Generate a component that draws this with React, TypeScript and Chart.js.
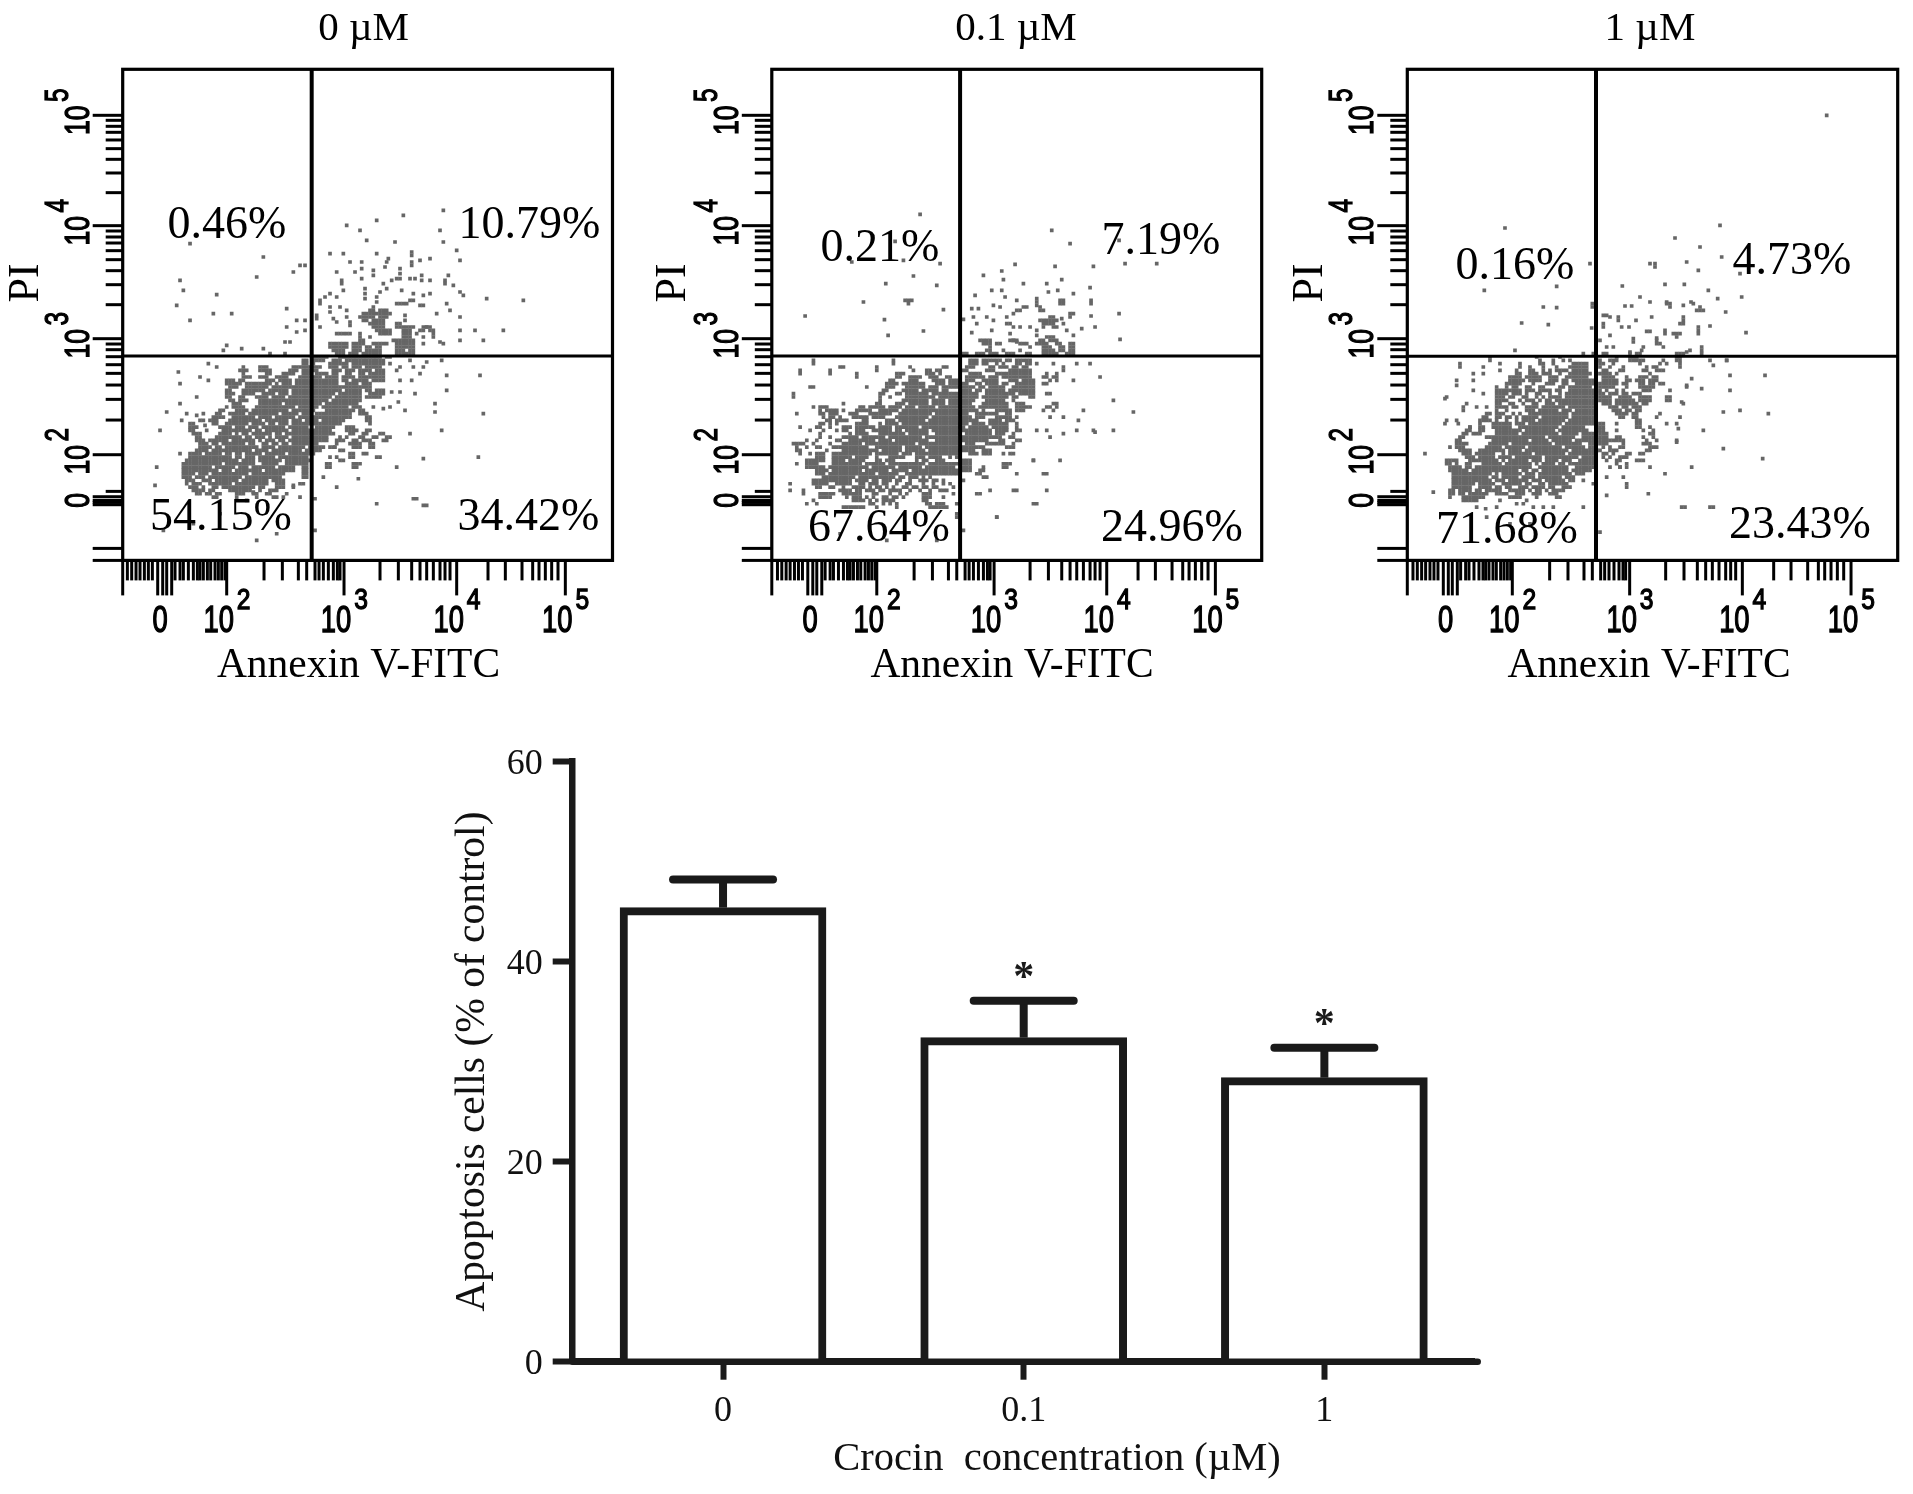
import React, { useEffect, useRef } from "react";
import { Chart, registerables } from "chart.js";

Chart.register(...registerables);

// ---------- Flow cytometry events, in display channels (one channel = one plotted event cell) ----------
const sparseA = [21,13,43,17,54,19.5,55.5,19.5,52,21.5,41,23,18,24,19,27,29,28.3,17,31.5,50,32.5,21,36,28,34,33.5,34,53,36,55.5,36,50,38,55.5,39,53,39.5,49.5,42.5,51,42.5,32,43.5,31,45,36.5,44.5,43,44.5,45,46,49.5,46,
97,3,85,4.5,77,6,68,7.5,72,9,96,9,82.5,12.5,74,12,97,12.5,101,15,63,16,67,16,77,16,87.5,15.5,87.5,16.5,87.5,18.5,87.5,19.5,102,18,90,18,93,17.5,69,18.5,72.5,18.5,80.5,17.5,80,18.5,79.5,20,65,21.5,70.5,21.5,72.5,20.5,76,21,76,22.5,84,20.5,84,22,84,23.5,81.5,24,83,23.5,87,23.5,88.5,23.5,90.5,22.5,90.5,24,93,24,98.5,22.5,97.5,24,97.5,25,66.5,24,66.5,25,72.5,23.5,79,25,80,26.5,100,25.5,67,27,73.5,26.5,73.5,28,73.5,29.5,77,29,78,27.5,84.5,27,88,28,91,28.5,93,28,102,27.5,103,28.5,110,29.5,121,30,63,28,61.5,29,60,30,60,31,65,29,77,30.5,76,32,76,33.5,98,31,99,33,83,31,84,31,85,31,86,31,87,30,88,30,90,31.5,91,31.5,63,32,63,33.5,66,32,68,33,102,35,95,34,85.5,34.5,85.5,36,59,34.5,59,35.5,64,35.5,65,36.5,68,35,69,36.5,69,37.5,60,38,115,39,106.5,39,102,39,102,42,109,42,92,38,97,43,96,42.5,
17.5,51.5,26.5,49,29,50,24,53,26.5,54,18,55,23,59,18,61,14,63.5,25,64,20,64,23,64.5,18.5,66,12,69,25.5,67.5,18,76,11,80,10.5,85.5,52,85.5,50,88,49,89,54,89,40,87.5,41,89,38,90,41,102,13,99,22,97,30,94,47,100,58.5,99,58.5,89.5,65,86,71.5,83.5,77,91,83,80,91,77.5,107.5,77,96.5,69,87,70,109,64,94.5,61,94.5,63.5,88.5,58,84,57.5,81.5,57.5,83.5,60.5,85.5,63,81,62,79,62.5,76,62,98,57,108,52.5,98,52.5,96.5,48,84,54,87.5,54,90,52,88,50,91,50,84,50,81,49,83,51,87,48,92,48.5,88,89.5,89,89.5,91,91.5,92,91.5,65,77,62,80,66,78,63,79,64.5,74,67,78];

const denseA = [
"33:75-76 78-80","34:73-81","35:72-76 78-80","36:73-74 76-79","37:75-79 83-84","38:76-79 83-88 91-93","39:77-81 85-87 90-91 93-94","40:65-69 72 78-81 85-87 89 94","41:72 75 85-87 91 94","42:72-73 82-88","43:63-68 70-73 76-80 83-88 91","44:63-68 70-72 74-75 77-78 83-88","45:64-67 70-72 74-78 83-85 87-88","46:65-67 69-71 73-78 83-88",
"47:58-62 66-78 80-81","48:55-56 58-61 64-66 68-79","49:55-56 58 63-68 70-79","50:37 42-44 52-57 58-60 63-65 67-68 70-72 74-78","51:36-38 42-45 51-53 55-59 64-66 68-70 72-75 77-79","52:37 44-45 49-52 55-57 59-62 64-65 68-69 72-73 75-79","53:37-39 42-44 47-50 54-60 62-65 67-70 72-79","54:32-34 36-37 44-46 48-51 53-65 67-68 70-74 76-79","55:32-36 38-45 47 49-51 53-65 68-71 73-75","56:33-35 38-44 46-51 52-75","57:32-33 37-43 45-50 52-66 68-72 74-75 77-79","58:32-34 37-40 43-46 48-50 52-64 66-72 75-79","59:32-33 36-37 41-44 46-49 51-63 65-72 74-78","60:33-34 36-38 42-49 50-62 64-72","61:34-36 42-48 50-60 62-71","62:32 34-37 41-52 54-59 61-68 70-72","63:30-31 35-38 40-50 52-58 62-70 72-73","64:29-30 33-37 39-47 49-53 55-57 59-69 72-74","65:28-31 34-40 42-45 47-52 54-69 74-75","66:24-25 27-29 33-42 44-50 52-54 56-59 61-67 74-75","67:21-22 28-29 32-38 40-43 45-46 48-50 52-66 75","68:21-23 30-33 35-37 39-41 43-49 51-56 59-64 68-70","69:21-22 26 31-39 41-42 44-50 52-63 68-71 74-75","70:22-24 30-33 35 37-38 40-45 47-48 50-64 69-70 73-74 78-79","71:23-24 29-36 38-39 41-43 45 47-50 52-62 66 68 72-73 76-77 80-81","72:23-25 27-32 34-40 42 44-46 48-49 51-62 65-67 70-71 73-75 79-80","73:24-26 28-29 31-37 39-40 43-44 46-47 49-50 52-59 65 69-72 75-76","74:24-27 29-30 32-41 43-46 48-55 57-61 63-64 70-72 75-76","75:23-26 28-39 41-44 46-54 56-60 66-67","76:21-24 26-30 32-33 35-36 38-42 44-49 51-58 69-70 73-74","77:21-33 35-36 38-40 42-46 48-56 63 69-70 77-78","78:20-35 37-40 42-48 50-57","79:19-30 32-40 43-47 50-56 62 70-72","80:19-27 29-34 36-38 40-46 48-52 55-56 63 70-71","81:19-29 31-33 35-42 44-52 55-56","82:19-22 24-26 28-38 40-49 55-56","83:19-21 23-25 27-36 38-48 55-56 61","84:20-22 25-27 29-35 37-44 46-49","85:20 22-24 27-33 35-42 43-44 47-49 54-55","86:21-23 25 28-29 31-40 42-43 47-49 52","87:22-25 27-28 33-39 42 45-47","88:23-24 26-27 29-30 35-37 40-41 44-45","89:28-29 35 46-47"];

const sparseB = [45,4.2,37.5,12.3,24.5,18.5,40,18,51,19,43,22.7,34.7,25,50,25.5,28,30.5,41.5,30,41.5,31,40.5,30,42.5,30,52,32.8,10.5,34.7,34.3,35.8,46,39.2,35.4,40.5,
84.5,9,90,13,104.7,12,73.5,19.2,85.5,19.8,97,19.8,106.5,19,116,19,64,22.5,69.5,21.2,70,23.8,76,25,83,25,87.5,23.8,96,26.2,66.5,27,69.5,27,83.5,27.5,86.3,27,91,28,61.5,28.5,70.5,29,96.3,30,96.3,31,74,30,60.5,32.5,62.5,32.5,67,31.5,69,32,75,33,76,32,77,32,80,29.5,80,30.5,80,31.5,81,32,81,33,82,33,87,31,88,31,87,30,88,30,90,34,91,34,90,35,58,35.7,61,35,62,37,65,35,67,36,71,35,73,34,74,33,96.3,34.7,104.7,34,71,37,72,37,73,38,75,38,78,38,87.5,35.5,88,37,93.5,38.5,97.5,38,60.5,39.7,66.5,39,72,40,80,39,80,40.5,82,38,83,41,84,41,85,41,89,39,91,40.5,73,42,74,42.5,105,41.7,
57,93,56,94,56,95,68,95,58,99,21,100,50,102,35,102,103,60,109,63.5,103,69,97.5,69.5,92.5,66,88,70,79,78,74,87,79,91,68,95,83,82,87,78,10,88,6,85,6,87,11,80];

const denseB = [
"35:84-85","36:81-86","37:82-85","38:85-86","42:63-66 72-74 81-82 84-86","43:64-66 68-69 75-77 80-83 86-87 90-91","44:66 78 82-84 87-88 90-91","45:65-66 70 75 82-85 87-88 90-91","46:58-59 62-64 66-68 71-73 77-78 82-86 89-91",
"48:13 37 60-62 64-66 67-69 71-72 74-78","49:13 37 60-62 64-65 68 70 74-75 77-78 80 85 92 96","50:21-22 32 42 52-53 59-61 66-67 69-71 73-74 76-77 88","51:9 18 32 43 47-48 50-51 58-59 65-67 72-78 88","52:9 18 26 38-40 47-49 51 60-63 68-70 71-78 83 86","53:26 38-39 42-45 48-50 53-54 59-64 66-68 70-78 82-83 85-86 99","54:36-37 42-44 49-52 54-56 59-61 64-68 72-74 76-79 84 86 91","55:35-38 40-46 50-52 54-56 58-59 62-63 65-68 70-71 74-79 82-83","56:12-13 29 35-37 41-46 48-50 52-57 58-61 63-64 66-70 73-79","57:34-35 40-44 46-50 52-53 58-60 62-63 65-70 72-79","58:7 33-34 38-39 41-47 49-51 52-62 65-71 72-73 75-79 83-84","59:7 33 36 41-49 51-62 64-71 73-74 78-79","60:33 40-47 49-52 54-61 65-70 73","61:22 32-33 38-40 42-47 49-52 54-60 64-71 74-76 85-86","62:13 15-17 27-28 30-34 36-39 41-43 45-49 51-61 63-71 74-78 83-84 86","63:15 17-20 22 26-30 33-38 40-45 46-56 58-62 64 68-72 74-76 82 85 94","64:8 15-16 18-20 24-26 30-36 39-48 50-59 62-68 71-72","65:16 18-19 21 25-29 31-34 38-47 49-56 58-60 62-64 68-72 74 84 88","66:17-18 20-23 28-29 35-37 39-46 48-56 58-62 66-69 71-73","67:15-16 18 20 26-29 33 35-38 40-47 48-59 61-64 66-71 74","68:9 14-15 18 22-24 26-31 33-36 38-44 46-58 60-65 67-71 74","69:12 16 20 22-23 26-28 31-36 38-39 41-47 49-56 58-66 68-71 74-75 80 83 92 97","70:15 24 26-29 33-40 42-47 50-57 59-66 68-70 73","71:15 18 22-26 28-34 36-45 47-56 58-69 72-73 84","72:11 14 20-21 24-31 33-36 38-47 50-56 58-65 69-70 74-75","73:7-10 13 18 22-27 29-43 45-56 59-61 65-70 73","74:8 11 14-15 19-29 32-39 41-45 47-56 58-64 71-73","75:8-9 17 22-32 34-39 41-46 48-61 64-66","76:9 12 14-16 19-30 32-38 40-42 44-56 60-62 64-66 70 72-73","77:14-16 19-24 26-29 32 36-40 44-46 48-51 54 56","78:11-16 19-22 24-28 32-33 35-37 44 46-47 50-52 58-60 79","79:8 11-14 19-27 29-34 36-46 48-56 58-60 70-72","80:12-16 18-29 31-37 39-45 47-55 58-60 64 70-71","81:14-17 19-27 29-35 37-41 43-56 58-60 63-64","82:14-16 18-31 33-38 41-56 62-63 74 82","83:16-25 27-34 35-37 39-40 42-44 46 48 64-65","84:13-24 26-29 31-32 34-36 38-39 42 45-47 49-50 52 58","85:13-17 20-24 27-28 30-32 34-35 38 41-42 46 49 52 54","86:14-15 18-19 22 25-28 30 32-33 35 37 40-41 43-44 46-47 49-50 55","87:10 21-24 26-27 29-31 33-34 36-39 42 45 48 51-53 66 73 83","88:15-19 22-27 31-32 36 39 41 46-48 55 62-63","89:15-18 23 25-27 29 31 34-35 37-38 40 46-48 52","90:13 25-28 30 32 34-37 46-47","91:11 14 30-31 34 36 38 47-48 50-52 56-57 80","92:22-28 32 38 48-53"];

const sparseC = [125,-25.5,28.5,8.3,54,19,44,25.8,22.3,27,54.7,31,54.7,32,40,32,44,32.2,33.5,36.8,41.5,37.3,54.5,38.3,31.5,45,52,46,55,46,
93,7.5,79.5,11.3,87,14,93.5,17,83,18.5,72,19,73.5,19,73.5,20,86.5,21,99,22,63.7,25.7,76.5,25.2,82.3,25.2,89.5,27,92.3,29.5,99.5,29,69,29,72,30.5,77,30.5,84.3,30.5,64.5,31.7,66.5,31.7,77,31,78,31,78,32,82,31.5,85,31,87,32,87,33,88,33,86,33,94.7,33.5,58,34.5,59,34.5,60,35,62.5,35,62.5,36,72.5,35,67.8,36,82,35,82,36,81,37,82,37,90,37.7,58,37,58,38,63.5,38,65.7,38,71,39.3,72,39.3,76.5,39,76.5,40,79,40,80,40,81,40,80,41,86.5,38,86.5,39,86.5,40,100.8,39.7,60,40.5,57,42,59,44,61,44,67,41.5,67,42.5,74,41.3,74,42,74,43,75,43,76,44,70,44,69.5,45,84,45,83,45.5,87.5,44,87.5,45,87.5,46,66,45.5,66,46,68,46,69,46,80,46,81,46,82,46,58,46,59,46,
4.5,76,7,87.5,10.5,67,14.5,67,10.5,59.5,14,55.5,16,63,18,68,52,82,52,84,55,85,59,83,60,80,63,80,65,86,71.5,88,76.5,82,84.5,80,59,88.5,65,85,80,72.5,80.5,68.5,88,69,94,74.5,105.8,77.5,94,63.5,99,63,107.5,64,81.5,60.5,77,60,78,60,96,57,106.5,52.5,96,52.5,87.5,56.5,83,55.5,84.5,53.5,91,49.5,81,50,95,48,81.5,92,82.5,92,90,92,91,92,57,99.5,52,92,26,92,22.7,92.5,27,90,32,91,34,91,37,92,40,92,43,92,23,95,36,97,30,97,20,92];

const denseC = [
"47:24 38 45 62 66-68 80-81","48:24 39 43 46 48 56-57 60-62 66-70 76 80-81 90 95","49:15 27 33 39-40 43 49-53 57-58 61 69 75 77 81","50:15 22 33 36 40 44 48-53 57 60 64 71 73-74","51:27 32 36-37 40 42 44-47 49-53 58-59 63-64 70-71 74-76","52:19 22 32-33 36-38 40-42 45 48-54 57-60 62 72","53:30-33 35-39 42-44 47-53 58-61 65 69-71 73-74","54:14 19 30-34 36-39 42-44 46-47 49-55 58-62 65-66 68-70 72-74","55:29-33 37 41-43 46-47 50-55 57-62 64-65 69-70 72-73 75-76","56:26 29 31-32 35-36 39-40 45-46 48-54 57-61 65 69-73 83","57:19 26-33 35-37 39-42 44-45 48-55 57 59 62 64 70-72 78","58:22 26-29 31-33 35 38-39 42 45 47-55 57-58 60-62 64-65 67-69","59:11 26-28 30-31 34-35 38 40 42-45 47-55 57-60 63-66 69-72 77-78","60:26-29 33 35-37 39 41-42 44-55 57-60 62-67 69-72","61:17 26-27 30-31 34 37-38 41-43 45-55 58-60 62-68 70-71 82","62:16 20 23 26-29 31-32 35-38 40-46 48-55 60-62 64-65 67-69","63:26 29 35-37 39-44 46-48 50-55 61-63 65-66 68-69","64:23-24 26-28 31 33 36-47 49-55 62-65 67-68 75","65:22-23 26-27 29-30 32 34-38 40-47 49-55 63-64 67-68 74 81","66:11 14 21-24 26 29 32 34-37 39-46 48-55 68-69","67:21 25-30 32-34 36-45 47-55 57-58 62 68-69 77 80","68:18 21-22 25-30 33-44 46-52 56-58 68-69 72","69:17-18 21-22 26-33 35-43 45-53 56-58 62 70 73","70:16-17 19-21 26-32 34-44 46-50 52-55 57-59 72-73","71:15-16 23-37 38-40 42-49 52-55 57-59 62-63 70 73","72:14-15 25-35 37-41 43-48 50-55 57-64 71 74 80","73:14-17 24-29 31-42 44-51 54-55 57-59 64 70-72","74:12 14-16 23-27 29-34 36-45 47-52 54-55 58 60 63-64 72-74","75:15-18 21-28 30-33 35-47 49-57 60-62 71-72","76:16-18 20-25 28 30-36 38-46 48-55 58-59 61 65-66 69-70","77:17-19 21-25 27-30 32-39 41-50 52-55 58 60 63-65","78:11-14 18-26 28 30-35 37-39 41-44 46-48 51-55 59 62-63 68-70","79:11-12 14 17-18 22-27 29-36 38 40-43 45-46 48-55 62 65","80:12-15 17-18 20-36 39-47 50-55 63 65 72","81:12-17 19-32 34-35 37-38 40-47 49-54","82:13-24 26 28-33 35-37 39-48 50-51","83:13-23 25-26 28-32 34-37 39-45 47-49 64","84:13-24 26-28 30-35 37-39 41-46 48-49","85:13-19 21-25 28-33 35-36 39-40 42-47","86:13-18 21-24 26-27 29-30 33-35 37-40 42-43 46-48","87:12-13 15-18 20-21 23-27 30-34 36 38-39 41 43-46","88:12-13 15-16 18-23 26-29 32-34 37-39 42-44","89:12 16-22 30-33 38 44-45","90:16-20 35"];

// ---------- Flow cytometry axes ----------
const xMinorTicks = [2.2,3.5,4.8,6,7.3,8.5,9.7,16.5,18,19,20.5,22,23.2,24,25,26.2,27.2,28.5,29.5,30.5,31.5,43.2,48.7,53.5,56,58.5,59.7,61,62.5,64,65.2,66,78,83.5,87.5,90,92,94,96,97.5,99,110.4,115.6,120.6,123.8,125.7,127.6,129.5,131.4];
const xMajorTicks = [11.3,12.8,14,15.5,32,67.2,101,133.6];
const yMinorTicks = [-24,-22.2,-20.4,-18.1,-15.5,-12.3,-8.2,-2.3,9.2,11,12.8,15.1,17.8,21.1,25.3,31.3,43.1,44.8,46.9,49.3,51.9,55.4,59.7,65.9,87.3];
const yMajorTicks = [-25.5,7.6,41.5,76.3,88.9,90,90.6,91.3,104.4];
const xLabelTicks: [string, string, number][] = [["0","",11.7],["10","2",32],["10","3",67.2],["10","4",101],["10","5",133.6]];
const yLabelTicks: [string, string, number][] = [["10","5",-25.5],["10","4",7.6],["10","3",41.5],["10","2",76.3],["0","",90.6]];

const panelTitles = ["0 µM","0.1 µM","1 µM"];
const quadrantA: [string, number, number][] = [["0.46%",227,238],["10.79%",529.5,238],["54.15%",221,530],["34.42%",528.5,530]];
const quadrantB: [string, number, number][] = [["0.21%",880,261],["7.19%",1161,254],["67.64%",879,541],["24.96%",1172,541]];
const quadrantC: [string, number, number][] = [["0.16%",1515,279],["4.73%",1792,274],["71.68%",1507,543],["23.43%",1800,538]];

// ---------- Bar chart ----------
const concentrations = ["0","0.1","1"];
const apoptosisMean = [45.4,32.4,28.4];
const apoptosisErrorTop = [48.2,36.1,31.4];
const significance = ["","*","*"];

const SERIF = '"Liberation Serif", "Times New Roman", serif';
const SANS = '"Liberation Sans", Arial, sans-serif';
const EVENT_GREY = "#666666";
const INK = "#000000";
const BAR_INK = "#1a1a1a";

function pairs(flat: number[]) {
  const out: { x: number; y: number }[] = [];
  for (let i = 0; i + 1 < flat.length; i += 2) out.push({ x: flat[i], y: flat[i + 1] });
  return out;
}
function cells(rows: string[]) {
  const out: { x: number; y: number }[] = [];
  for (const row of rows) {
    const [yText, spans] = row.split(":");
    for (const span of spans.split(" ")) {
      const [a, b] = span.split("-").map(Number);
      for (let x = a; x <= (b ?? a); x++) out.push({ x, y: Number(yText) });
    }
  }
  return out;
}

type Panel = {
  title: string; titleX: number; left: number; width: number;
  plotLeft: number; plotRight: number; xMin: number; xMax: number; shift: number;
  gateX: number; gateY: number; sparse: number[]; dense: string[];
  quadrants: [string, number, number][]; axisX: number; piX: number;
};
const TOP = 69.3, BOTTOM = 560.4, YMIN = -39.3, YMAX = 108;

const panels: Panel[] = [
  { title: panelTitles[0], titleX: 363.6, left: 0, width: 640, plotLeft: 122.7, plotRight: 612.5, xMin: 0.8, xMax: 147.75, shift: 0, gateX: 57.5, gateY: 46.7, sparse: sparseA, dense: denseA, quadrants: quadrantA, axisX: 358.5, piX: 38 },
  { title: panelTitles[1], titleX: 1016, left: 650, width: 640, plotLeft: 771.8, plotRight: 1261.7, xMin: 0.5, xMax: 147.5, shift: 0, gateX: 57, gateY: 46.7, sparse: sparseB, dense: denseB, quadrants: quadrantB, axisX: 1012, piX: 685 },
  { title: panelTitles[2], titleX: 1650, left: 1290, width: 623, plotLeft: 1407.3, plotRight: 1897.7, xMin: -0.8, xMax: 146.3, shift: -1.3, gateX: 55.8, gateY: 46.8, sparse: sparseC, dense: denseC, quadrants: quadrantC, axisX: 1649, piX: 1322 },
];

// A condensed, slightly heavy glyph like the cytometer's axis font; the ctx is positioned by the caller.
function axisGlyph(ctx: any, text: string, size: number, squeeze: number) {
  ctx.save();
  ctx.scale(squeeze, 1);
  ctx.font = `${size}px ${SANS}`;
  ctx.lineWidth = 1.3;
  ctx.fillText(text, 0, 0);
  ctx.strokeText(text, 0, 0);
  ctx.restore();
}

function facsPlugin(p: Panel) {
  return {
    id: "facsAxes",
    afterDraw(chart: any) {
      const { ctx, chartArea: a, scales } = chart;
      const X = scales.x, Y = scales.y;
      ctx.save();
      ctx.strokeStyle = INK;
      ctx.fillStyle = INK;
      ctx.lineWidth = 3.2;
      ctx.strokeRect(a.left, a.top, a.right - a.left, a.bottom - a.top);

      ctx.lineWidth = 3;
      const xt = (v: number, len: number) => {
        const px = X.getPixelForValue(v + p.shift);
        ctx.beginPath(); ctx.moveTo(px, a.bottom); ctx.lineTo(px, a.bottom + len); ctx.stroke();
      };
      const yt = (v: number, len: number) => {
        const py = Y.getPixelForValue(v);
        ctx.beginPath(); ctx.moveTo(a.left, py); ctx.lineTo(a.left - len, py); ctx.stroke();
      };
      xMinorTicks.forEach((v) => xt(v, 20));
      xMajorTicks.forEach((v) => xt(v, 35));
      xt(p.xMin - p.shift, 35);
      yMinorTicks.forEach((v) => yt(v, 17));
      yMajorTicks.forEach((v) => yt(v, 30));
      yt(YMAX, 30);

      // tick labels: "10" with a raised exponent
      ctx.textBaseline = "alphabetic";
      ctx.textAlign = "center";
      for (const [base, exp, v] of xLabelTicks) {
        const px = X.getPixelForValue(v + p.shift);
        ctx.save();
        ctx.translate(exp ? px - 8 : px + 1, 632);
        axisGlyph(ctx, base, 36, 0.76);
        ctx.restore();
        if (exp) {
          ctx.save();
          ctx.translate(px + 17, 609);
          axisGlyph(ctx, exp, 29, 0.85);
          ctx.restore();
        }
      }
      for (const [base, exp, v] of yLabelTicks) {
        const py = Y.getPixelForValue(v);
        ctx.save();
        ctx.translate(a.left - 34, py + (exp ? 5 : -2));
        ctx.rotate(-Math.PI / 2);
        axisGlyph(ctx, base, 35, 0.76);
        ctx.restore();
        if (exp) {
          ctx.save();
          ctx.translate(a.left - 55, py - 20);
          ctx.rotate(-Math.PI / 2);
          axisGlyph(ctx, exp, 34, 0.72);
          ctx.restore();
        }
      }

      // titles and quadrant percentages
      ctx.textAlign = "center";
      ctx.font = `41px ${SERIF}`;
      ctx.fillText(p.title, p.titleX - p.left, 40);
      ctx.font = `41.5px ${SERIF}`;
      ctx.fillText("Annexin V-FITC", p.axisX - p.left, 677);
      ctx.save();
      ctx.translate(p.piX - p.left, 283);
      ctx.rotate(-Math.PI / 2);
      ctx.font = `44px ${SERIF}`;
      ctx.fillText("PI", 0, 0);
      ctx.restore();
      ctx.font = `46px ${SERIF}`;
      for (const [t, x, y] of p.quadrants) ctx.fillText(t, x - p.left, y);
      ctx.restore();
    },
  };
}

function facsConfig(p: Panel): any {
  const sparse = pairs(p.sparse);
  const dense = cells(p.dense);
  const line = (data: { x: number; y: number }[], w: number) => ({
    data, showLine: true, borderColor: INK, borderWidth: w, pointRadius: 0, fill: false,
  });
  return {
    type: "scatter",
    data: {
      datasets: [
        line([{ x: p.gateX, y: YMIN }, { x: p.gateX, y: YMAX }], 4),
        line([{ x: p.xMin, y: p.gateY }, { x: p.xMax, y: p.gateY }], 3),
        {
          data: [...dense, ...sparse],
          pointStyle: "rect",
          pointRadius: 2.6,
          pointBorderWidth: 0,
          backgroundColor: EVENT_GREY,
          borderColor: EVENT_GREY,
        },
      ],
    },
    options: {
      animation: false,
      responsive: false,
      devicePixelRatio: 1,
      layout: { padding: { left: p.plotLeft - p.left, right: p.left + p.width - p.plotRight, top: TOP, bottom: 700 - BOTTOM } },
      plugins: { legend: { display: false }, tooltip: { enabled: false } },
      scales: {
        x: { type: "linear", display: false, min: p.xMin, max: p.xMax },
        y: { type: "linear", display: false, min: YMIN, max: YMAX, reverse: true },
      },
    },
    plugins: [facsPlugin(p)],
  };
}

const BAR_LEFT = 440, BAR_TOP = 730, BAR_W = 1060, BAR_H = 764;

const barExtras = {
  id: "barExtras",
  afterDatasetsDraw(chart: any) {
    const { ctx, scales, chartArea } = chart;
    const meta = chart.getDatasetMeta(0);
    ctx.save();
    ctx.strokeStyle = BAR_INK;
    ctx.fillStyle = BAR_INK;
    // the baseline stays on top of the white bar fills and runs a little past the last category band
    ctx.lineWidth = 6.5;
    ctx.lineCap = "round";
    ctx.beginPath(); ctx.moveTo(chartArea.left, chartArea.bottom); ctx.lineTo(chartArea.right + 3, chartArea.bottom); ctx.stroke();
    apoptosisErrorTop.forEach((v, i) => {
      const x = meta.data[i].x;
      const yTop = scales.y.getPixelForValue(v);
      const yBar = scales.y.getPixelForValue(apoptosisMean[i]);
      ctx.lineCap = "butt";
      ctx.lineWidth = 8;
      ctx.beginPath(); ctx.moveTo(x, yTop); ctx.lineTo(x, yBar); ctx.stroke();
      ctx.lineCap = "round";
      ctx.beginPath(); ctx.moveTo(x - 50, yTop); ctx.lineTo(x + 50, yTop); ctx.stroke();
      if (significance[i]) {
        ctx.font = `bold 42px ${SERIF}`;
        ctx.textAlign = "center";
        ctx.textBaseline = "alphabetic";
        ctx.fillText(significance[i], x, yTop - 11);
      }
    });
    ctx.fillStyle = "#111111";
    ctx.font = `40.5px ${SERIF}`;
    ctx.textAlign = "center";
    ctx.textBaseline = "alphabetic";
    ctx.fillText("Crocin  concentration (µM)", 1057 - BAR_LEFT, 1470 - BAR_TOP);
    ctx.restore();
  },
};

const barConfig: any = {
  type: "bar",
  data: {
    labels: concentrations,
    datasets: [{
      data: apoptosisMean,
      backgroundColor: "#ffffff",
      borderColor: BAR_INK,
      borderWidth: 8,
      borderSkipped: "bottom",
      barThickness: 206,
    }],
  },
  options: {
    animation: false,
    responsive: false,
    devicePixelRatio: 1,
    layout: { padding: { left: 0, right: 25.3, top: 30.7, bottom: 0 } },
    plugins: { legend: { display: false }, tooltip: { enabled: false } },
    scales: {
      x: {
        type: "category",
        afterFit: (s: any) => { s.height = 132.3; },
        border: { color: BAR_INK, width: 6.5 },
        grid: { offset: false, drawOnChartArea: false, tickLength: 18, tickWidth: 6, tickColor: BAR_INK },
        ticks: { color: "#111111", padding: 10, font: { family: SERIF, size: 36 }, maxRotation: 0 },
      },
      y: {
        type: "linear",
        min: 0,
        max: 60,
        afterFit: (s: any) => { s.width = 132.7; },
        border: { color: BAR_INK, width: 6.5 },
        grid: { drawOnChartArea: false, tickLength: 20, tickWidth: 6, tickColor: BAR_INK },
        ticks: { stepSize: 20, color: "#111111", padding: 10, labelOffset: 3, font: { family: SERIF, size: 36 } },
        title: { display: true, text: "Apoptosis cells (% of control)", color: "#111111", padding: { top: 8, bottom: 0 }, font: { family: SERIF, size: 41.5 } },
      },
    },
  },
  plugins: [barExtras],
};

export default function App() {
  const panelRefs = useRef<(HTMLCanvasElement | null)[]>([]);
  const barRef = useRef<HTMLCanvasElement | null>(null);

  useEffect(() => {
    const charts: Chart[] = [];
    panels.forEach((p, i) => {
      const el = panelRefs.current[i];
      if (el) charts.push(new Chart(el, facsConfig(p)));
    });
    if (barRef.current) charts.push(new Chart(barRef.current, barConfig));
    return () => charts.forEach((c) => c.destroy());
  }, []);

  return (
    <div style={{ position: "absolute", left: 0, top: 0, width: 1913, height: 1494, background: "#fff", overflow: "hidden" }}>
      {panels.map((p, i) => (
        <canvas
          key={p.title}
          ref={(el) => { panelRefs.current[i] = el; }}
          width={p.width}
          height={700}
          style={{ position: "absolute", left: p.left, top: 0, width: p.width, height: 700 }}
        />
      ))}
      <canvas
        ref={barRef}
        width={BAR_W}
        height={BAR_H}
        style={{ position: "absolute", left: BAR_LEFT, top: BAR_TOP, width: BAR_W, height: BAR_H }}
      />
    </div>
  );
}
